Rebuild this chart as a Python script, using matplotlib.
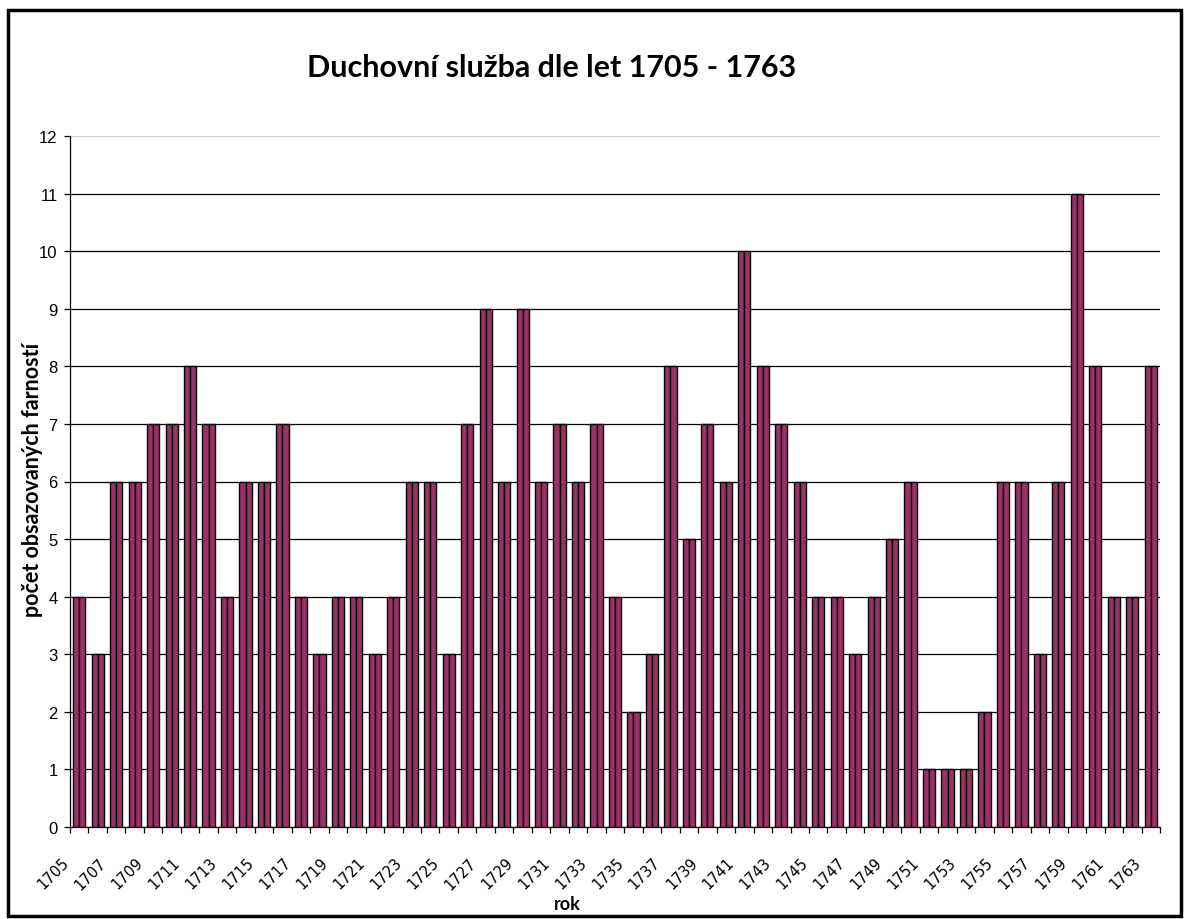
import matplotlib
matplotlib.use("Agg")
import matplotlib.pyplot as plt
import numpy as np
from matplotlib.patches import Rectangle

years = list(range(1705, 1764))
values = [4, 3, 6, 6, 7, 7, 8, 7, 4, 6, 6, 7, 4, 3, 4, 4, 3, 4, 6, 6,
          3, 7, 9, 6, 9, 6, 7, 6, 7, 4, 2, 3, 8, 5, 7, 6, 10, 8, 7, 6,
          4, 4, 3, 4, 5, 6, 1, 1, 1, 2, 6, 6, 3, 6, 11, 8, 4, 4, 8]
tick_labels = [str(y) if (y - 1705) % 2 == 0 else "" for y in years]

title = "Duchovní služba dle let 1705 - 1763"
ylabel = "počet obsazovaných farností"
xlabel = "rok"

W, H = 1186, 920
fig = plt.figure(figsize=(W / 100, H / 100), dpi=100)
fig.patch.set_facecolor("white")

# outer frame
fig.patches.append(Rectangle((8 / W, 3 / H), (W - 13) / W, (H - 14) / H,
                             transform=fig.transFigure, fill=False,
                             edgecolor="black", linewidth=2.5))

left, right, top, bottom = 70, 1160, 137, 828
ax = fig.add_axes([left / W, 1 - bottom / H, (right - left) / W, (bottom - top) / H])

x = np.arange(len(values))
bw = 0.66
ax.bar(x - bw / 4, values, width=bw / 2, color="#993366", edgecolor="black", linewidth=1.0, zorder=3)
ax.bar(x + bw / 4, values, width=bw / 2, color="#993366", edgecolor="black", linewidth=1.0, zorder=3)

ax.set_xlim(-0.5, len(values) - 0.5)
ax.set_ylim(0, 12)
ax.set_yticks(range(0, 13))
ax.yaxis.grid(True, color="black", linewidth=0.9, zorder=0)
ax.set_axisbelow(True)
ax.get_ygridlines()[-1].set_color("#cfcfcf")

for s in ["top", "right"]:
    ax.spines[s].set_visible(False)
ax.spines["left"].set_linewidth(0.9)
ax.spines["bottom"].set_linewidth(0.9)

ax.tick_params(axis="y", direction="out", length=4, width=0.9, labelsize=12, pad=5,
               labelfontfamily="Liberation Sans")
# ticks at category boundaries; each label sits at the left boundary of its category
ax.set_xticks(np.arange(-0.5, len(values), 1.0))
ax.set_xticklabels(tick_labels + [""], rotation=45, ha="right", va="baseline",
                   rotation_mode="anchor", fontsize=10.5, family="DejaVu Sans")
ax.tick_params(axis="x", which="major", direction="out", length=4, width=0.9, pad=22)

fig.text(33 / W, 1 - 480 / H, ylabel, ha="center", va="center", rotation=90,
         fontsize=15.5, fontweight="bold", family="Lato")
fig.text(567 / W, 1 - 905 / H, xlabel, ha="center", va="center", fontsize=13,
         fontweight="bold", family="Lato")
fig.text(552 / W, 1 - 68 / H, title, ha="center", va="center", fontsize=22,
         fontweight="bold", family="Lato")

fig.savefig("out.png", dpi=100)
